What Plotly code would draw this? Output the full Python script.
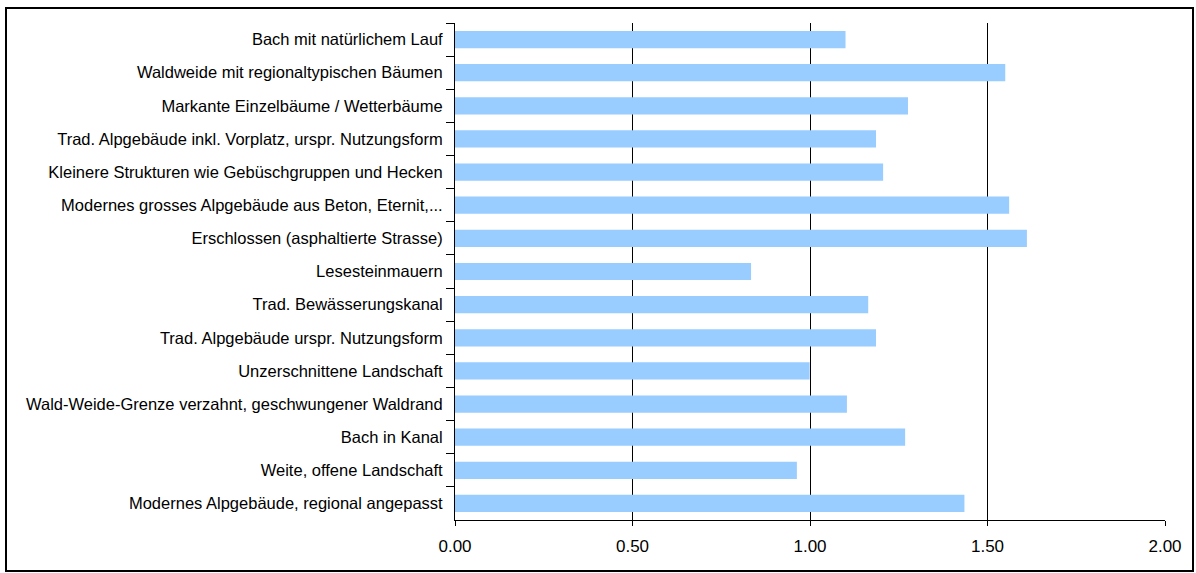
import plotly.graph_objects as go

categories = [
    "Bach mit natürlichem Lauf",
    "Waldweide mit regionaltypischen Bäumen",
    "Markante Einzelbäume / Wetterbäume",
    "Trad. Alpgebäude inkl. Vorplatz, urspr. Nutzungsform",
    "Kleinere Strukturen wie Gebüschgruppen und Hecken",
    "Modernes grosses Alpgebäude aus Beton, Eternit,...",
    "Erschlossen (asphaltierte Strasse)",
    "Lesesteinmauern",
    "Trad. Bewässerungskanal",
    "Trad. Alpgebäude urspr. Nutzungsform",
    "Unzerschnittene Landschaft",
    "Wald-Weide-Grenze verzahnt, geschwungener Waldrand",
    "Bach in Kanal",
    "Weite, offene Landschaft",
    "Modernes Alpgebäude, regional angepasst",
]
values = [1.10, 1.55, 1.276, 1.186, 1.206, 1.561, 1.611, 0.834, 1.164,
          1.186, 0.999, 1.104, 1.268, 0.963, 1.435]
x_ticks = [0.0, 0.5, 1.0, 1.5, 2.0]
x_tick_labels = ["0.00", "0.50", "1.00", "1.50", "2.00"]

W, H = 1196, 573
L, R, T, B = 455, 31, 23, 53
pw, ph = W - L - R, H - T - B

fig = go.Figure(go.Bar(
    x=values, y=categories, orientation="h",
    marker=dict(color="#99CCFF", line=dict(width=0)),
))

fig.update_layout(
    width=W, height=H,
    margin=dict(l=L, r=R, t=T, b=B, pad=0),
    paper_bgcolor="white", plot_bgcolor="white",
    bargap=0.48,
    showlegend=False,
    font=dict(family="Liberation Sans, Arial, sans-serif", size=12, color="black"),
    xaxis=dict(
        range=[0, 2], tickvals=x_ticks, ticktext=x_tick_labels,
        showgrid=True, gridcolor="black", gridwidth=1,
        showline=True, linecolor="black", linewidth=1,
        ticks="outside", ticklen=5, tickcolor="black",
        zeroline=False, fixedrange=True,
        tickfont=dict(size=17), ticklabelstandoff=6,
    ),
    yaxis=dict(
        autorange="reversed", type="category",
        showline=True, linecolor="black", linewidth=1,
        ticks="outside", ticklen=8, tickcolor="black", tickson="boundaries",
        showgrid=False, fixedrange=True,
        tickfont=dict(size=16.5), ticklabelstandoff=8,
    ),
    shapes=[dict(
        type="rect", xref="paper", yref="paper",
        x0=(6 - L) / pw, x1=(1193 - L) / pw,
        y0=(H - B - 571) / ph, y1=(H - B - 8) / ph,
        line=dict(color="black", width=2), fillcolor="rgba(0,0,0,0)",
        layer="below",
    )],
)

fig.write_html("out.html")
